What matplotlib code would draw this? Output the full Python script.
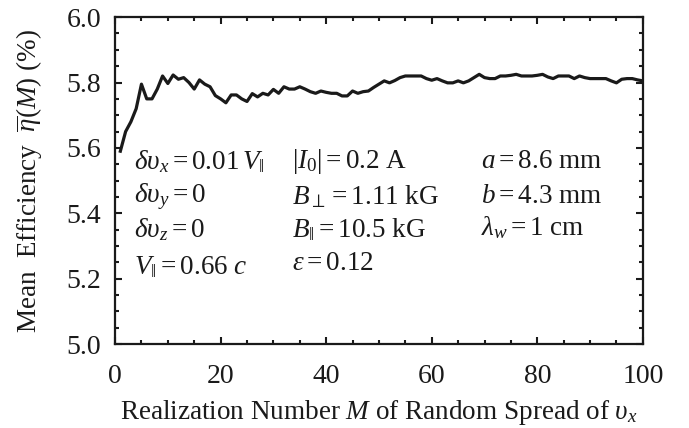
import numpy as np
import matplotlib
matplotlib.use("Agg")
import matplotlib.pyplot as plt
from matplotlib.ticker import MultipleLocator

plt.rcParams['font.family'] = 'Liberation Serif'
plt.rcParams['mathtext.fontset'] = 'custom'
plt.rcParams['mathtext.rm'] = 'Liberation Serif'
plt.rcParams['mathtext.it'] = 'Liberation Serif:italic'

# Realization number M and mean efficiency (%)
realization = np.arange(1, 101)
efficiency = [
    5.590, 5.650, 5.680, 5.720, 5.795, 5.750, 5.750, 5.780, 5.820, 5.797,
    5.823, 5.810, 5.815, 5.800, 5.780, 5.808, 5.795, 5.787, 5.760, 5.750,
    5.738, 5.762, 5.762, 5.750, 5.742, 5.766, 5.756, 5.767, 5.762, 5.779,
    5.767, 5.787, 5.780, 5.780, 5.787, 5.780, 5.772, 5.767, 5.774, 5.770,
    5.767, 5.767, 5.759, 5.759, 5.774, 5.767, 5.772, 5.774, 5.785, 5.795,
    5.805, 5.799, 5.806, 5.815, 5.820, 5.820, 5.820, 5.820, 5.812, 5.807,
    5.812, 5.805, 5.799, 5.799, 5.805, 5.799, 5.805, 5.815, 5.825, 5.815,
    5.812, 5.812, 5.820, 5.820, 5.822, 5.825, 5.820, 5.820, 5.820, 5.822,
    5.825, 5.817, 5.812, 5.820, 5.820, 5.820, 5.812, 5.820, 5.815, 5.812,
    5.812, 5.812, 5.812, 5.805, 5.799, 5.810, 5.812, 5.812, 5.808, 5.805,
]

# Parameter annotations: (M, eta, text)
params = [
    (3.5, 5.557, r'$\delta\upsilon_x = 0.01\,V_{\|}$'),
    (3.5, 5.450, r'$\delta\upsilon_y = 0$'),
    (3.5, 5.349, r'$\delta\upsilon_z = 0$'),
    (3.5, 5.235, r'$V_{\|} = 0.66\ c$'),
    (33.5, 5.557, r'$|I_0| = 0.2\ \mathrm{A}$'),
    (33.5, 5.450, r'$B_{\perp} = 1.11\ \mathrm{kG}$'),
    (33.5, 5.349, r'$B_{\|} = 10.5\ \mathrm{kG}$'),
    (33.5, 5.245, r'$\varepsilon = 0.12$'),
    (69.3, 5.557, r'$a = 8.6\ \mathrm{mm}$'),
    (69.3, 5.450, r'$b = 4.3\ \mathrm{mm}$'),
    (69.3, 5.355, r'$\lambda_w = 1\ \mathrm{cm}$'),
]

fig = plt.figure(figsize=(6.89, 4.28), dpi=100)
ax = fig.add_axes([0.167, 0.196, 0.766, 0.764])

ax.plot(realization, efficiency, color='#1a1a1a', linewidth=2.3)

for x, y, s in params:
    ax.text(x, y, s, fontsize=19.5, va='center', ha='left', color='#1a1a1a')

ax.set_xlim(0, 100)
ax.set_ylim(5.0, 6.0)
ax.xaxis.set_major_locator(MultipleLocator(20))
ax.xaxis.set_minor_locator(MultipleLocator(5))
ax.yaxis.set_major_locator(MultipleLocator(0.2))
ax.yaxis.set_minor_locator(MultipleLocator(0.05))
ax.yaxis.set_major_formatter(matplotlib.ticker.FormatStrFormatter('%.1f'))
ax.tick_params(which='both', direction='in', top=True, right=True,
               labelsize=20, width=1.5, colors='#1a1a1a')
ax.tick_params(axis='x', which='both', pad=14)
ax.tick_params(axis='y', which='both', pad=10)
ax.tick_params(which='major', length=5)
ax.tick_params(which='minor', length=3)
for sp in ax.spines.values():
    sp.set_linewidth(1.6)
    sp.set_color('#1a1a1a')

ax.set_xlabel(r'Realization Number $M$ of Random Spread of $\upsilon_x$',
              fontsize=19.5, labelpad=7, color='#1a1a1a')
ax.set_ylabel(r'Mean  Efficiency  $\overline{\eta}(M)$ (%)',
              fontsize=19.5, labelpad=16, color='#1a1a1a')

fig.savefig('out.png', dpi=100)
